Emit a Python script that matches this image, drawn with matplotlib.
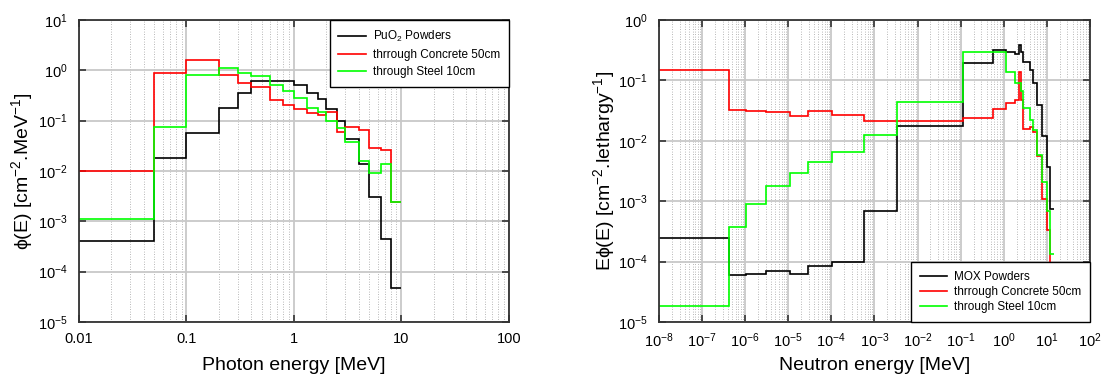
import numpy as np
import matplotlib
matplotlib.use("Agg")
import matplotlib.pyplot as plt
from matplotlib.ticker import LogLocator, FuncFormatter, NullFormatter

plt.rcParams['font.family'] = ['Liberation Sans', 'DejaVu Sans']
plt.rcParams['mathtext.fontset'] = 'custom'
plt.rcParams['mathtext.rm'] = 'Liberation Sans'
plt.rcParams['mathtext.it'] = 'Liberation Sans:italic'

# photon spectrum (18 groups)
ph_edges = [0.01, 0.05, 0.1, 0.2, 0.3, 0.4, 0.6, 0.8, 1.0, 1.33, 1.66,
            2.0, 2.5, 3.0, 4.0, 5.0, 6.5, 8.0, 10.0]
ph_puo2 = [4.0e-4, 0.0177, 0.056, 0.18, 0.35, 0.62, 0.62, 0.60, 0.51, 0.36,
           0.265, 0.168, 0.098, 0.043, 0.0136, 0.0030, 4.5e-4, 4.7e-5]
ph_concrete = [0.0099, 0.87, 1.57, 0.82, 0.57, 0.47, 0.257, 0.20, 0.168, 0.14,
               0.13, 0.15, 0.060, 0.076, 0.065, 0.028, 0.026, 0.0024]
ph_steel = [0.00112, 0.075, 0.82, 1.11, 0.90, 0.78, 0.52, 0.39, 0.28, 0.176,
            0.146, 0.098, 0.071, 0.038, 0.016, 0.0093, 0.0138, 0.0024]

# neutron spectrum
n_edges = [1e-8, 4.14e-7, 1.07e-6, 3.06e-6, 1.07e-5, 2.9e-5, 1.01e-4, 5.83e-4,
           3.35e-3, 0.111, 0.55, 1.11, 1.83, 2.23, 2.47, 2.87, 4.07, 4.72,
           6.07, 7.79, 10.0, 12.0, 14.9]
n_mox = [2.5e-4, 5.9e-5, 6.3e-5, 6.9e-5, 6.2e-5, 8.3e-5, 9.8e-5, 6.8e-4,
         0.0177, 0.19, 0.32, 0.29, 0.27, 0.385, 0.29, 0.20, 0.15, 0.089,
         0.039, 0.012, 0.0037, 7.5e-4]
n_concrete = [0.149, 0.0324, 0.0313, 0.0297, 0.0252, 0.0305, 0.0265, 0.021,
              0.021, 0.024, 0.034, 0.042, 0.047, 0.14, 0.047, 0.0155, 0.017,
              0.0137, 0.0055, 0.0011, 3.3e-4, 2e-5]
n_steel = [1.86e-5, 3.8e-4, 9.0e-4, 1.8e-3, 2.9e-3, 4.4e-3, 6.4e-3, 0.0125,
           0.043, 0.30, 0.30, 0.14, 0.089, 0.089, 0.067, 0.035, 0.022, 0.0148,
           0.0059, 0.0021, 6.8e-4, 1.35e-4]

fig = plt.figure(figsize=(11.02, 3.8), dpi=100)
ax1 = fig.add_axes([0.0717, 0.1526, 0.390, 0.795])
ax2 = fig.add_axes([0.598, 0.1526, 0.391, 0.795])

def style(ax):
    ax.set_xscale('log')
    ax.set_yscale('log')
    ax.xaxis.set_minor_locator(LogLocator(base=10, subs=np.arange(2, 10), numticks=20))
    ax.yaxis.set_minor_locator(LogLocator(base=10, subs=np.arange(2, 10), numticks=20))
    ax.yaxis.set_minor_formatter(NullFormatter())
    ax.xaxis.set_minor_formatter(NullFormatter())
    ax.grid(which='major', color='#c8c8c8', linewidth=1.3, linestyle='-')
    ax.grid(which='minor', axis='x', color='#a0a0a0', linewidth=0.6, linestyle=(0, (1, 2)))
    ax.tick_params(which='major', direction='in', length=5, width=1.2,
                   top=True, right=True, labelsize=10.5, color='#333333')
    ax.tick_params(axis='y', which='major', pad=8)
    ax.tick_params(axis='x', which='major', pad=7)
    ax.tick_params(which='minor', length=0)
    for s in ax.spines.values():
        s.set_color('#333333')
        s.set_linewidth(1.3)
    ax.set_axisbelow(True)

leg_kw = dict(borderaxespad=0, fontsize=8.5, fancybox=False, edgecolor='black',
              framealpha=1, handlelength=2.3, handletextpad=0.6)

style(ax1)
ax1.stairs(ph_puo2, ph_edges, baseline=None, color='black', lw=1.2, label='PuO$_2$ Powders')
ax1.stairs(ph_concrete, ph_edges, baseline=None, color='#ff0000', lw=1.2, label='thrrough Concrete 50cm')
ax1.stairs(ph_steel, ph_edges, baseline=None, color='#00ff00', lw=1.2, label='through Steel 10cm')
ax1.set_xlim(0.01, 100)
ax1.set_ylim(1e-5, 10)
ax1.xaxis.set_major_formatter(FuncFormatter(lambda v, p: '%g' % v))
ax1.set_xlabel('Photon energy [MeV]', fontsize=14, labelpad=8)
ax1.set_ylabel('ϕ(E) [cm$^{-2}$.MeV$^{-1}$]', fontsize=14, labelpad=2)
leg1 = ax1.legend(loc='upper right', borderpad=0.75, labelspacing=0.45, **leg_kw)
leg1.get_frame().set_linewidth(1.0)

style(ax2)
ax2.stairs(n_mox, n_edges, baseline=None, color='black', lw=1.2, label='MOX Powders')
ax2.stairs(n_concrete, n_edges, baseline=None, color='#ff0000', lw=1.2, label='thrrough Concrete 50cm')
ax2.stairs(n_steel, n_edges, baseline=None, color='#00ff00', lw=1.2, label='through Steel 10cm')
ax2.set_xlim(1e-8, 100)
ax2.set_ylim(1e-5, 1)
ax2.xaxis.set_major_locator(LogLocator(base=10, numticks=20))
ax2.set_xlabel('Neutron energy [MeV]', fontsize=14, labelpad=5)
ax2.set_ylabel('Eϕ(E) [cm$^{-2}$.lethargy$^{-1}$]', fontsize=14, labelpad=1)
leg2 = ax2.legend(loc='lower right', borderpad=0.75, labelspacing=0.27, **leg_kw)
leg2.get_frame().set_linewidth(1.0)

fig.savefig('out.png', dpi=100)
